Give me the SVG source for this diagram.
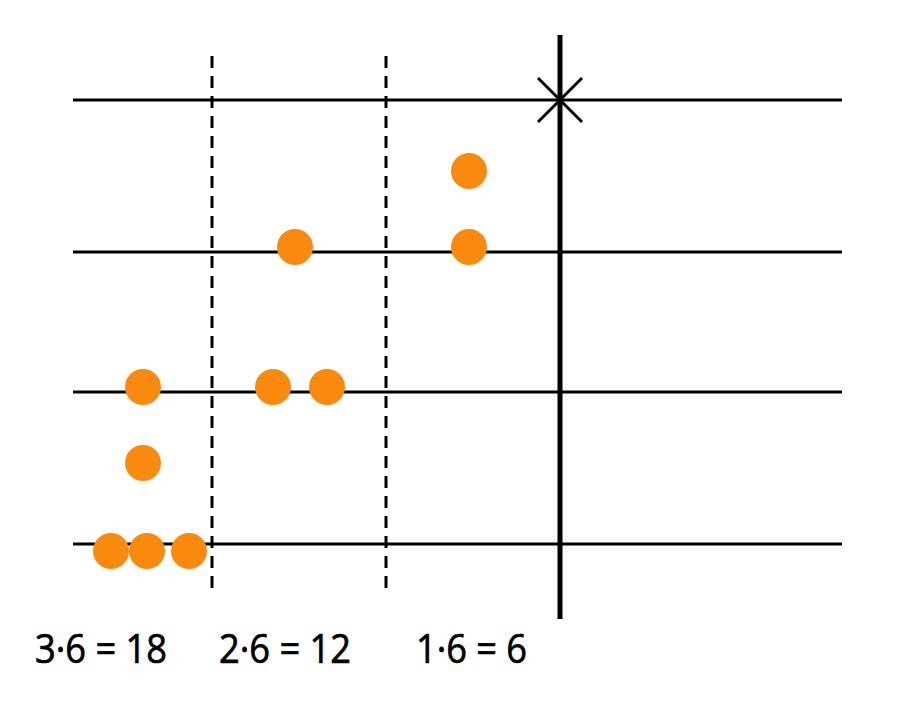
<svg xmlns="http://www.w3.org/2000/svg" width="900" height="714" viewBox="0 0 900 714">
<style>
.h{stroke:#000;stroke-width:3;fill:none}
.d{stroke:#000;stroke-width:3;stroke-dasharray:12 8;fill:none}
.dot{fill:#FA8A0E}
.t{font-family:"Open Sans","Liberation Sans",Arial,sans-serif;font-size:40px;fill:#000;stroke:#000;stroke-width:0.7px}
</style>
<rect width="900" height="714" fill="#fff"/>
<g id="connectors">
<line class="h" x1="73" y1="100" x2="842" y2="100"/>
<line class="h" x1="73" y1="252" x2="842" y2="252"/>
<line class="h" x1="73" y1="392" x2="842" y2="392"/>
<line class="h" x1="73" y1="544" x2="842" y2="544"/>
<line class="d" x1="212" y1="56" x2="212" y2="588"/>
<line class="d" x1="386" y1="56" x2="386" y2="588"/>
<line x1="560" y1="35" x2="560" y2="619" stroke="#000" stroke-width="5"/>
<line class="h" x1="538" y1="78" x2="582" y2="122"/>
<line class="h" x1="582" y1="78" x2="538" y2="122"/>
</g>
<g id="dots">
<circle class="dot" cx="469" cy="171" r="18"/>
<circle class="dot" cx="469" cy="247" r="18"/>
<circle class="dot" cx="295" cy="247" r="18"/>
<circle class="dot" cx="143" cy="387" r="18"/>
<circle class="dot" cx="273" cy="387" r="18"/>
<circle class="dot" cx="327" cy="387" r="18"/>
<circle class="dot" cx="143" cy="463" r="18"/>
<circle class="dot" cx="111" cy="551" r="18"/>
<circle class="dot" cx="147" cy="551" r="18"/>
<circle class="dot" cx="189" cy="551" r="18"/>
</g>
<g id="labels">
<text class="t" x="35" y="663" textLength="132" lengthAdjust="spacingAndGlyphs">3·6 = 18</text>
<text class="t" x="219" y="663" textLength="132" lengthAdjust="spacingAndGlyphs">2·6 = 12</text>
<text class="t" x="416" y="663" textLength="111" lengthAdjust="spacingAndGlyphs">1·6 = 6</text>
</g>
</svg>
